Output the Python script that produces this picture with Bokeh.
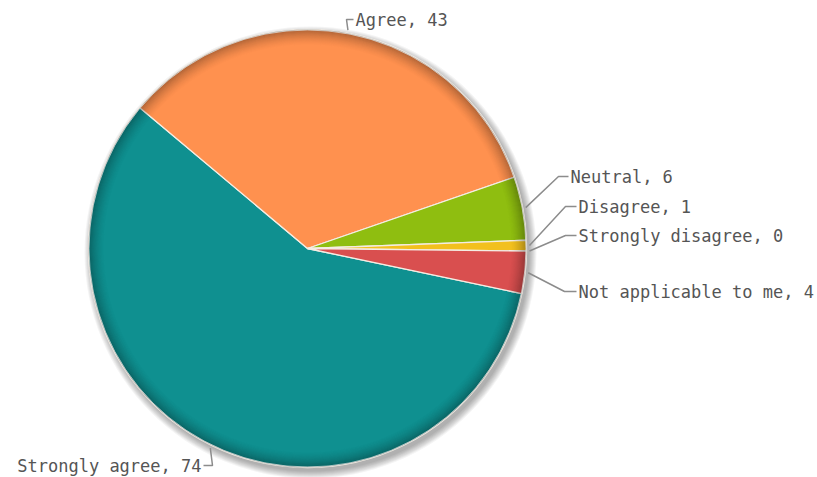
import math
from bokeh.plotting import figure
from bokeh.models import Range1d, ColumnDataSource
from bokeh.core.properties import value
from bokeh.embed import file_html
from bokeh.resources import INLINE

# ---- data ----
categories = ["Strongly agree", "Agree", "Neutral", "Disagree", "Strongly disagree", "Not applicable to me"]
counts = [74, 43, 6, 1, 0, 4]
colors = ["#0f9090", "#ff914f", "#8fbe10", "#f2c01e", "#e8a040", "#d94f4f"]

# ---- layout (screen pixels) ----
W, H = 817, 477
CX_S, CY_S, R = 307, 248, 219
START_DEG = -11.9  # angle (math convention) where first slice begins, drawn clockwise
FONT = "DejaVu Sans Mono"
FONT_SIZE = "17px"

# label layout: (elbow x, label y, text x, align)
label_layout = [
    (212, 465, 201, "right"),
    (346, 19, 355, "left"),
    (558, 176, 570, "left"),
    (565, 206, 578, "left"),
    (565, 235, 578, "left"),
    (564, 291, 578, "left"),
]


def ydat(sy):
    return H - sy


p = figure(width=W, height=H, x_range=Range1d(0, W), y_range=Range1d(0, H),
           output_backend="svg", toolbar_location=None, min_border=0)
p.axis.visible = False
p.grid.visible = False
p.outline_line_color = None
p.background_fill_color = "white"
p.border_fill_color = "white"

CX, CY = CX_S, ydat(CY_S)

# shadow (offset down-right)
for k in range(7, -1, -1):
    p.circle(x=[CX + 3], y=[CY - 4], radius=R + k, radius_units="screen",
             fill_color="#000000", fill_alpha=0.045, line_color=None)

# wedges
total = float(sum(counts))
starts, ends, mids, cols = [], [], [], []
cum = 0.0
for v, c in zip(counts, colors):
    a0 = START_DEG - cum / total * 360.0
    a1 = a0 - v / total * 360.0
    mids.append((a0 + a1) / 2.0)
    if v > 0:
        starts.append(math.radians(a1))
        ends.append(math.radians(a0))
        cols.append(c)
    cum += v

src = ColumnDataSource(dict(start=starts, end=ends, color=cols))
p.wedge(x=CX, y=CY, radius=R, radius_units="screen", start_angle="start", end_angle="end",
        fill_color="color", line_color="#f4ede4", line_width=1.3, source=src)

# rim darkening (3D bevel)
N = 16
for k in range(N):
    a = 0.32 * (1 - k / N) ** 1.6
    p.annulus(x=[CX], y=[CY], inner_radius=R - k - 1, outer_radius=R - k,
              inner_radius_units="screen", outer_radius_units="screen",
              fill_color="#000000", fill_alpha=a, line_color=None)
# light edge highlight
p.arc(x=[CX], y=[CY], radius=R - 0.5, radius_units="screen", start_angle=0, end_angle=2 * math.pi,
      line_color="#eef4f4", line_alpha=0.6, line_width=1.0)

# connectors
xs, ys = [], []
for m, (ex, ly, tx, al) in zip(mids, label_layout):
    rx = CX_S + (R + 3) * math.cos(math.radians(m))
    ry = CY_S - (R + 3) * math.sin(math.radians(m))
    end_x = tx - 2 if al == "left" else tx + 2
    xs.append([rx, ex, end_x])
    ys.append([ydat(ry), ydat(ly), ydat(ly)])
p.multi_line(xs=xs, ys=ys, line_color="#8c8c8c", line_width=1.5)

# labels
labels = [f"{c}, {v}" for c, v in zip(categories, counts)]
for al in ("left", "right"):
    idx = [i for i, L in enumerate(label_layout) if L[3] == al]
    p.text(x=[label_layout[i][2] for i in idx], y=[ydat(label_layout[i][1]) for i in idx],
           text=[labels[i] for i in idx], text_font=value(FONT), text_font_size=FONT_SIZE,
           text_color="#555555", text_baseline="middle", text_align=al)

open("out.html", "w").write(file_html(p, INLINE))
